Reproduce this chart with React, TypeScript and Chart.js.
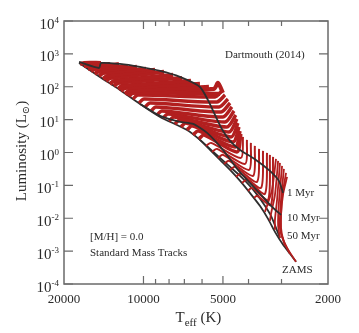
import React, { useEffect, useRef } from "react";
import { Chart, registerables } from "chart.js";

Chart.register(...registerables);

// ---- Axis ranges and ticks ----
const tempMin = 2000;
const tempMax = 20000;
const lumMin = 1e-4;
const lumMax = 1e4;
const tempLabelTicks = [20000, 10000, 5000, 2000];
const tempMajorTicks = [10000, 5000];
const tempMinorTicks = [9000, 8000, 7000, 6000, 4000, 3000];
const lumExponents = [-4, -3, -2, -1, 0, 1, 2, 3, 4];

// ---- Evolutionary mass tracks: [log10 Teff, log10 L/Lsun] ----
const highMassTracks = [
  [[4.161, 2.723], [4.225, 2.723], [4.240, 2.693]],
  [[4.127, 2.693], [4.210, 2.632], [4.225, 2.632]],
  [[4.093, 2.693], [4.195, 2.571], [4.210, 2.541]],
  [[4.059, 2.632], [4.184, 2.541], [4.199, 2.480]],
  [[4.025, 2.602], [4.168, 2.480], [4.184, 2.389]],
  [[3.990, 2.541], [4.153, 2.419], [4.168, 2.328]],
  [[3.956, 2.511], [4.138, 2.328], [4.153, 2.237]],
  [[3.922, 2.450], [4.127, 2.267], [4.142, 2.176]],
  [[3.888, 2.359], [4.112, 2.176], [4.127, 2.085]],
  [[3.854, 2.267], [4.096, 2.116], [4.112, 2.024]],
  [[3.820, 2.176], [4.081, 2.024], [4.096, 1.933]],
  [[3.786, 2.085], [4.070, 1.964], [4.085, 1.872]],
  [[3.752, 1.994], [4.055, 1.872], [4.070, 1.781]],
  [[3.710, 1.781], [3.740, 1.781], [4.047, 1.842], [4.062, 1.751]],
  [[3.699, 1.812], [3.718, 2.116], [3.733, 1.933], [4.040, 1.812], [4.055, 1.720]],
];

const intermediateMassTracks = [
  [[3.703, 1.872], [3.729, 1.690], [4.021, 1.751], [4.040, 1.629]],
  [[3.691, 1.751], [3.722, 1.538], [3.998, 1.629], [4.017, 1.508]],
  [[3.680, 1.629], [3.714, 1.386], [3.975, 1.508], [3.994, 1.386]],
  [[3.672, 1.508], [3.706, 1.234], [3.953, 1.386], [3.971, 1.264]],
  [[3.665, 1.386], [3.699, 1.082], [3.930, 1.264], [3.949, 1.143]],
  [[3.657, 1.264], [3.691, 0.930], [3.907, 1.173], [3.926, 1.052]],
  [[3.650, 1.143], [3.684, 0.778], [3.884, 1.082], [3.903, 0.960]],
  [[3.646, 1.021], [3.676, 0.626], [3.862, 0.991], [3.881, 0.869]],
  [[3.642, 0.900], [3.668, 0.474], [3.839, 0.900], [3.858, 0.778]],
  [[3.638, 0.778], [3.661, 0.322], [3.816, 0.809], [3.835, 0.687]],
  [[3.634, 0.657], [3.653, 0.170], [3.793, 0.657], [3.812, 0.535]],
  [[3.631, 0.565], [3.646, 0.018], [3.771, 0.535], [3.790, 0.413]],
];

const solarTypeTracks = [
  [[3.623, 0.474], [3.631, -0.164], [3.744, 0.292], [3.763, 0.201]],
  [[3.608, 0.383], [3.615, -0.346], [3.722, 0.109], [3.740, 0.018]],
  [[3.593, 0.292], [3.600, -0.529], [3.699, -0.073], [3.718, -0.164]],
  [[3.578, 0.201], [3.585, -0.711], [3.676, -0.255], [3.695, -0.346]],
  [[3.562, 0.109], [3.570, -0.894], [3.653, -0.438], [3.672, -0.529]],
  [[3.547, 0.049], [3.555, -1.076], [3.631, -0.650], [3.650, -0.742]],
  [[3.532, -0.012], [3.540, -1.258], [3.608, -0.833], [3.627, -0.924]],
  [[3.521, -0.073], [3.528, -1.441], [3.589, -1.076], [3.604, -1.167]],
  [[3.509, -0.134], [3.517, -1.593], [3.570, -1.319], [3.581, -1.380]],
];

const lowMassTracks = [
  [[3.498, -0.195], [3.513, -1.137], [3.532, -1.623], [3.540, -1.805]],
  [[3.490, -0.255], [3.502, -1.289], [3.517, -1.866], [3.521, -2.079]],
  [[3.483, -0.316], [3.494, -1.441], [3.502, -2.049], [3.502, -2.353]],
  [[3.475, -0.407], [3.487, -1.532], [3.490, -2.201], [3.483, -2.596]],
  [[3.468, -0.498], [3.479, -1.441], [3.483, -2.292], [3.464, -2.839]],
  [[3.460, -0.620], [3.475, -1.380], [3.479, -2.292], [3.468, -2.717], [3.445, -3.082]],
  [[3.456, -0.742], [3.471, -1.258], [3.479, -1.897], [3.479, -2.444], [3.456, -2.900], [3.422, -3.325]],
];

// ---- Isochrones: [log10 Teff, log10 L/Lsun] ----
const zams = [
  [4.244, 2.723], [4.165, 2.298], [4.089, 1.903], [4.013, 1.477], [3.937, 1.082],
  [3.835, 0.687], [3.786, 0.383], [3.748, 0.079], [3.710, -0.225], [3.672, -0.529],
  [3.634, -0.863], [3.597, -1.228], [3.559, -1.623], [3.528, -2.018], [3.502, -2.413],
  [3.471, -2.809], [3.445, -3.082], [3.422, -3.325],
];
const iso50Myr = [
  [3.790, 0.413], [3.748, 0.109], [3.710, -0.164], [3.672, -0.438], [3.634, -0.711],
  [3.597, -1.015], [3.566, -1.319], [3.540, -1.623], [3.517, -1.927], [3.498, -2.292],
  [3.483, -2.596],
];
const iso10Myr = [
  [4.013, 1.477], [3.937, 1.112], [3.862, 0.930], [3.812, 0.869], [3.759, 0.596],
  [3.699, 0.079], [3.642, -0.529], [3.597, -0.924], [3.551, -1.319], [3.513, -1.653],
  [3.479, -1.897],
];
const iso1Myr = [
  [4.244, 2.754], [4.168, 2.571], [4.161, 2.723], [4.089, 2.693], [4.013, 2.602],
  [3.937, 2.480], [3.862, 2.298], [3.786, 1.994], [3.756, 1.599], [3.729, 1.143],
  [3.703, 0.717], [3.672, 0.353], [3.634, 0.079], [3.574, -0.225], [3.521, -0.559],
  [3.487, -0.863], [3.471, -1.228],
];

const isoLabels = ["1 Myr", "10 Myr", "50 Myr", "ZAMS"];
const titleText = "Dartmouth (2014)";
const noteLines = ["[M/H] = 0.0", "Standard Mass Tracks"];

const SERIF = '"Liberation Serif", "DejaVu Serif", serif';
const TEXT = "#2a2a2a";

const framePlugin = {
  id: "hrFrame",
  afterDatasetsDraw(chart: any) {
    const { ctx, chartArea: a, scales } = chart;
    const xs = scales.x;
    const ys = scales.y;
    ctx.save();
    ctx.strokeStyle = "#6a6a6a";
    ctx.lineWidth = 1.5;
    ctx.strokeRect(a.left, a.top, a.right - a.left, a.bottom - a.top);
    ctx.lineWidth = 1.2;
    ctx.beginPath();
    for (const e of lumExponents) {
      const y = ys.getPixelForValue(Math.pow(10, e));
      ctx.moveTo(a.left, y);
      ctx.lineTo(a.left + 9, y);
      ctx.moveTo(a.right, y);
      ctx.lineTo(a.right - 9, y);
    }
    for (const v of tempMajorTicks) {
      const x = xs.getPixelForValue(v);
      ctx.moveTo(x, a.top);
      ctx.lineTo(x, a.top + 8);
      ctx.moveTo(x, a.bottom);
      ctx.lineTo(x, a.bottom - 8);
    }
    for (const v of tempMinorTicks) {
      const x = xs.getPixelForValue(v);
      ctx.moveTo(x, a.top);
      ctx.lineTo(x, a.top + 5);
      ctx.moveTo(x, a.bottom);
      ctx.lineTo(x, a.bottom - 5);
    }
    ctx.stroke();

    ctx.fillStyle = TEXT;
    ctx.textBaseline = "alphabetic";
    const rightEdge = a.left - 5;
    for (const e of lumExponents) {
      const y = ys.getPixelForValue(Math.pow(10, e));
      const expStr = e < 0 ? "-" + Math.abs(e) : String(e);
      ctx.font = `9px ${SERIF}`;
      ctx.textAlign = "right";
      const ew = ctx.measureText(expStr).width;
      ctx.fillText(expStr, rightEdge, y + 2);
      ctx.font = `15px ${SERIF}`;
      ctx.fillText("10", rightEdge - ew, y + 7.5);
    }
    ctx.font = `13px ${SERIF}`;
    ctx.textAlign = "center";
    for (const v of tempLabelTicks) {
      const x = xs.getPixelForValue(v);
      ctx.fillText(String(v), x, a.bottom + 19);
    }
    ctx.textAlign = "left";
    let cx = 175.5;
    ctx.font = `15px ${SERIF}`;
    ctx.fillText("T", cx, 322);
    cx += ctx.measureText("T").width;
    ctx.font = `11px ${SERIF}`;
    ctx.fillText("eff", cx, 326);
    cx += ctx.measureText("eff").width;
    ctx.font = `15px ${SERIF}`;
    ctx.fillText(" (K)", cx, 322);

    ctx.save();
    ctx.translate(26, 151);
    ctx.rotate(-Math.PI / 2);
    ctx.font = `15px ${SERIF}`;
    const p1 = "Luminosity (L";
    const w1 = ctx.measureText(p1).width;
    ctx.font = `10px ${SERIF}`;
    const w2 = ctx.measureText("\u2299").width;
    ctx.font = `15px ${SERIF}`;
    const w3 = ctx.measureText(")").width;
    let tx = -(w1 + w2 + w3) / 2;
    ctx.fillText(p1, tx, 0);
    tx += w1;
    ctx.font = `10px ${SERIF}`;
    ctx.fillText("\u2299", tx, 3);
    tx += w2;
    ctx.font = `15px ${SERIF}`;
    ctx.fillText(")", tx, 0);
    ctx.restore();

    ctx.font = `11px ${SERIF}`;
    ctx.textAlign = "left";
    ctx.fillText(titleText, 225, 58);
    ctx.fillText(noteLines[0], 90, 240);
    ctx.fillText(noteLines[1], 90, 256);
    ctx.fillText(isoLabels[0], 287, 196);
    ctx.fillText(isoLabels[1], 287, 221);
    ctx.fillText(isoLabels[2], 287, 239);
    ctx.fillText(isoLabels[3], 282, 273);
    ctx.restore();
  },
};

export default function App() {
  const ref = useRef<HTMLCanvasElement>(null);
  useEffect(() => {
    const canvas = ref.current;
    if (!canvas) return;
    const toPts = (t: number[][]) =>
      t.map(([lt, ll]) => ({ x: Math.pow(10, lt), y: Math.pow(10, ll) }));
    const red = "#b21f1f";
    const black = "#2e2e2e";
    const datasets: any[] = [];
    const addTracks = (tracks: number[][][], width: number) => {
      for (const t of tracks) {
        datasets.push({
          data: toPts(t),
          borderColor: red,
          borderWidth: width,
          showLine: true,
          pointRadius: 0,
          tension: 0.25,
          order: 2,
        });
      }
    };
    const addIso = (pts: number[][], order: number) => {
      datasets.push({
        data: toPts(pts),
        borderColor: black,
        borderWidth: 1.8,
        showLine: true,
        pointRadius: 0,
        tension: 0.2,
        order,
      });
    };
    addIso(zams, 3);
    addIso(iso50Myr, 3);
    addTracks(highMassTracks, 4.2);
    addTracks(intermediateMassTracks, 3.5);
    addTracks(solarTypeTracks, 2.0);
    addTracks(lowMassTracks, 1.8);
    addIso(iso10Myr, 1);
    addIso(iso1Myr, 1);

    const chart = new Chart(canvas, {
      type: "scatter",
      data: { datasets },
      options: {
        responsive: false,
        animation: false,
        devicePixelRatio: 1,
        events: [],
        layout: { padding: { left: 64, top: 21, right: 31, bottom: 49 } },
        scales: {
          x: { type: "logarithmic", reverse: true, min: tempMin, max: tempMax, display: false },
          y: { type: "logarithmic", min: lumMin, max: lumMax, display: false },
        },
        plugins: { legend: { display: false }, tooltip: { enabled: false } },
      },
      plugins: [framePlugin],
    } as any);
    return () => chart.destroy();
  }, []);
  return (
    <div style={{ position: "absolute", left: 0, top: 0, width: 359, height: 333, background: "#fff" }}>
      <canvas ref={ref} width={359} height={333} />
    </div>
  );
}
